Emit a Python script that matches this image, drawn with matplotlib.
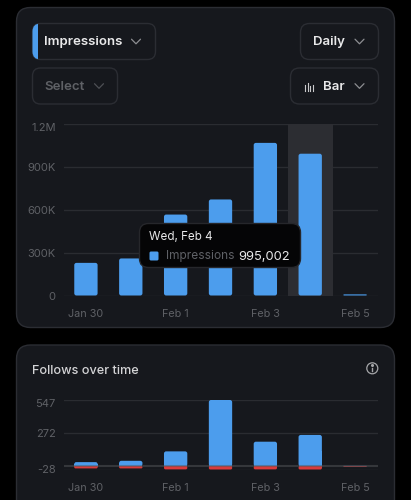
import matplotlib
matplotlib.use('Agg')
import matplotlib.pyplot as plt
from matplotlib.patches import FancyBboxPatch, Rectangle, Circle
from matplotlib.transforms import ScaledTranslation

W, H = 411, 500

days = ['Jan 30', 'Jan 31', 'Feb 1', 'Feb 2', 'Feb 3', 'Feb 4', 'Feb 5']
impressions = [229000, 260000, 568000, 674000, 1071000, 995002, 8000]
imp_ticks = [0, 300000, 600000, 900000, 1200000]
imp_tick_labels = ['0', '300K', '600K', '900K', '1.2M']

follows_gained = [33, 44, 122, 547, 202, 258, 2]
follows_lost = [-19, -19, -27, -28, -27, -28, -6]
follow_ticks = [-28, 272, 547]
follow_tick_labels = ['-28', '272', '547']

x_tick_pos = [0, 2, 4, 6]
x_tick_labels = ['Jan 30', 'Feb 1', 'Feb 3', 'Feb 5']

BG = '#16181d'
EDGE = '#2b2d33'
GRID = '#2a2c31'
BLUE = '#4c9ded'
RED = '#dc3b3b'
MUTED = '#5f6166'
WHITE = '#e9e9ea'

plt.rcParams['font.family'] = ['Inter', 'DejaVu Sans']

fig = plt.figure(figsize=(W / 100, H / 100), dpi=100, facecolor='black')

# pixel-coordinate layer for cards and dropdowns
ui = fig.add_axes([0, 0, 1, 1], zorder=0)
ui.set_xlim(0, W)
ui.set_ylim(H, 0)
ui.axis('off')


def box(ax, x, y, w, h, r, fc=BG, ec=EDGE, lw=1, z=1):
    p = FancyBboxPatch((x + r, y + r), w - 2 * r, h - 2 * r,
                       boxstyle=f'round,pad={r},rounding_size={r}',
                       fc=fc, ec=ec, lw=lw, zorder=z)
    ax.add_patch(p)
    return p


def chevron(ax, cx, cy, color, size=4.5, z=3):
    ax.plot([cx - size, cx, cx + size], [cy - 2.3, cy + 2.3, cy - 2.3],
            color=color, lw=0.9, zorder=z, solid_capstyle='round')


def axes_px(left, top, right, bottom):
    return fig.add_axes([left / W, 1 - bottom / H, (right - left) / W, (bottom - top) / H],
                        zorder=2, facecolor='none')


def style_axes(ax):
    ax.set_xlim(-0.5, 6.5)
    for s in ax.spines.values():
        s.set_visible(False)
    ax.set_xticks(x_tick_pos)
    ax.set_xticklabels(x_tick_labels, fontsize=7.8, color=MUTED)
    ax.grid(axis='y', color=GRID, lw=1)
    ax.set_axisbelow(True)
    ax.tick_params(length=0)
    ax.tick_params(axis='y', pad=5.6, labelsize=8, labelcolor=MUTED)
    ax.tick_params(axis='x', pad=9.5)


def nudge_top_label(ax, px=3):
    # the highest label sits just under its gridline
    lab = ax.get_yticklabels()[-1]
    lab.set_transform(lab.get_transform() + ScaledTranslation(0, -px / 100, fig.dpi_scale_trans))


def round_bars(ax, bars, r_px=2.2, square_base=False, z=3):
    # swap the square bar patches for rounded ones, same geometry
    box_w = ax.get_position().width * W
    box_h = ax.get_position().height * H
    x0, x1 = ax.get_xlim()
    y0, y1 = ax.get_ylim()
    ux = (x1 - x0) / box_w
    uy = (y1 - y0) / box_h
    for rect in bars:
        bx, by, bw, bh = rect.get_x(), rect.get_y(), rect.get_width(), rect.get_height()
        color = rect.get_facecolor()
        rect.remove()
        low, high = min(by, by + bh), max(by, by + bh)
        r = min(r_px, (high - low) / uy / 2)
        ax.add_patch(FancyBboxPatch((bx + r * ux, low + r * uy), bw - 2 * r * ux, (high - low) - 2 * r * uy,
                                    boxstyle=f'round,pad={r * ux},rounding_size={r * ux}',
                                    mutation_aspect=uy / ux, fc=color, ec='none', zorder=z))
        if square_base:
            base = (by, by + bh / 2)
            ax.add_patch(Rectangle((bx, min(base)), bw, abs(bh) / 2, fc=color, ec='none', zorder=z))


# cards
box(ui, 16.5, 7.5, 378, 320, 14)
box(ui, 16.5, 345, 378, 170, 14)

# dropdowns, top row
box(ui, 32.5, 23.5, 123, 36, 8)
clip = box(ui, 32.5, 23.5, 123, 36, 8, fc='none', ec='none', z=2)
accent = Rectangle((32, 23), 6.3, 37, fc=BLUE, ec='none', zorder=2)
ui.add_patch(accent)
accent.set_clip_path(clip)
ui.text(44, 42.3, 'Impressions', color=WHITE, fontsize=9.5, fontweight='semibold', va='center')
chevron(ui, 136, 41.5, '#8d8e92')

box(ui, 300.5, 23.5, 78, 36, 9)
ui.text(313, 42.3, 'Daily', color=WHITE, fontsize=9.5, fontweight='semibold', va='center')
chevron(ui, 359.5, 41.5, '#8d8e92')

# dropdowns, second row
box(ui, 32.5, 68, 85, 36, 8)
ui.text(44, 87.3, 'Select', color=MUTED, fontsize=9.5, fontweight='semibold', va='center')
chevron(ui, 99, 86, '#4d4f54')

box(ui, 290.5, 68, 88, 36, 9)
for bx, top in zip([305, 307.7, 310.4, 313], [85, 82.5, 86, 84.5]):
    ui.plot([bx, bx], [top, 90.5], color='#c9c9cb', lw=0.8, zorder=3)
ui.text(323, 87.3, 'Bar', color=WHITE, fontsize=9.5, fontweight='semibold', va='center')
chevron(ui, 359.5, 86, '#8d8e92')

# impressions chart
ax1 = axes_px(63.5, 124.5, 377.5, 295.5)
style_axes(ax1)
ax1.set_ylim(0, 1200000)
ax1.set_yticks(imp_ticks)
ax1.set_yticklabels(imp_tick_labels)
nudge_top_label(ax1)
ax1.axvspan(4.5, 5.5, color='#2c2d32', zorder=1, lw=0)
round_bars(ax1, ax1.bar(range(len(days)), impressions, width=0.52, color=BLUE, zorder=3))

# tooltip over the bars
tip = fig.add_axes([0, 0, 1, 1], zorder=3, facecolor='none')
tip.set_xlim(0, W)
tip.set_ylim(H, 0)
tip.axis('off')
box(tip, 139.5, 223.5, 161, 44, 9, fc='#050506', ec='#26272b')
tip.text(149, 236.5, 'Wed, Feb 4', color=WHITE, fontsize=8.4, va='center')
box(tip, 149.5, 251.5, 9, 9, 1.5, fc=BLUE, ec='none', z=3)
tip.text(166, 256.5, 'Impressions', color=MUTED, fontsize=8.6, va='center', zorder=3)
tip.text(290, 256.5, f'{impressions[5]:,}', color=WHITE, fontsize=9.3, ha='right', va='center', zorder=3)

# follows card
ui.text(32, 370.5, 'Follows over time', color='#d4d4d6', fontsize=9.1, fontweight='medium', va='center')
ui.add_patch(Circle((372.3, 368.3), 5.5, fc='none', ec='#a5a6a9', lw=0.9, zorder=3))
ui.plot([372.3, 372.3], [367.5, 371.2], color='#a5a6a9', lw=1, zorder=3)
ui.plot([372.3], [365.3], marker='o', ms=1.2, color='#a5a6a9', zorder=3)

ax2 = axes_px(63.5, 400, 377.5, 469.5)
style_axes(ax2)
ax2.set_ylim(-28, 547)
ax2.set_yticks(follow_ticks)
ax2.set_yticklabels(follow_tick_labels)
nudge_top_label(ax2)
round_bars(ax2, ax2.bar(range(len(days)), follows_gained, width=0.52, color=BLUE, zorder=3), square_base=True)
round_bars(ax2, ax2.bar(range(len(days)), follows_lost, width=0.52, color=RED, zorder=3), r_px=1.5, square_base=True)
ax2.axhline(0, color='#55565a', lw=1.5, alpha=0.5, zorder=4)

fig.savefig('out.png', dpi=100, facecolor='black')
